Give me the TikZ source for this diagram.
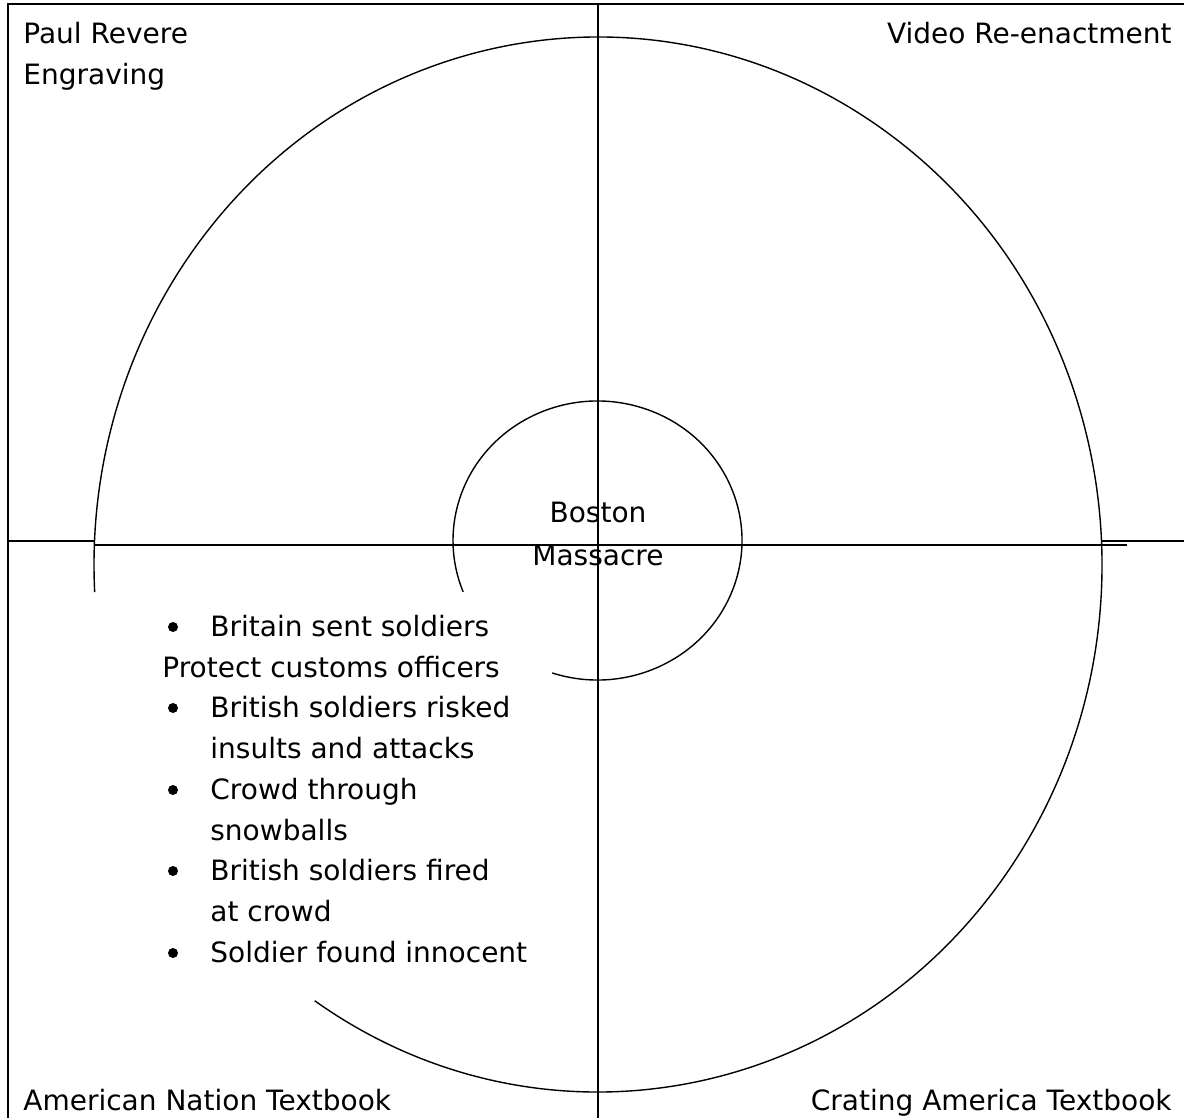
\documentclass[tikz,border=0pt]{standalone}
\usepackage{fontspec}
\setmainfont{DejaVu Sans}

\begin{document}
\begin{tikzpicture}[x=0.5pt, y=-0.5pt]
  \tikzset{
    source/.style={inner sep=0pt, font=\fontsize{14pt}{20.4pt}\selectfont},
    topic/.style={source, anchor=base},
    fact/.style={source, anchor=base west},
    bulletmark/.style={circle, fill=black, inner sep=0pt, minimum size=5pt},
    frame/.style={line width=1pt},
    ring/.style={line width=0.7pt}
  }
  \useasboundingbox (0,0) rectangle (1184,1118);

  \draw[frame] (8,1118) -- (8,4) -- (1184,4);
  \draw[frame] (597.5,4) -- (597.5,1118);
  \draw[frame] (8,541) -- (95,541);
  \draw[frame] (95,544.5) -- (1127,544.5);
  \draw[frame] (1102,541) -- (1184,541);

  \coordinate (outer) at (598,564.5);
  \coordinate (inner) at (597.5,540.5);
  \draw[ring] (outer) ++(-124.2:252pt and 263.75pt)
    arc[start angle=-124.2, end angle=183, x radius=252pt, y radius=263.75pt];
  \draw[ring] (inner) ++(-108.3:72.25pt and 69.75pt)
    arc[start angle=-108.3, end angle=201.6, x radius=72.25pt, y radius=69.75pt];

  \node[source, anchor=base west] (paul) at (23,44) {Paul Revere};
  \node[source, anchor=base west] (engraving) at (23,85) {Engraving};
  \node[source, anchor=base east] (video) at (1172,44) {Video Re-enactment};
  \node[source, anchor=base west] (nation) at (23,1110) {American Nation Textbook};
  \node[source, anchor=base east] (creating) at (1172,1110) {Crating America Textbook};

  \node[topic] (boston) at (598,522) {Boston};
  \node[topic] (massacre) at (598,565) {Massacre};

  \node[bulletmark] (b1) at (173,627) {};
  \node[fact] (sent) at (210,636) {Britain sent soldiers};
  \node[fact] (protect) at (162,677) {Protect customs officers};
  \node[bulletmark] (b2) at (173,708) {};
  \node[fact] (risked) at (210,717) {British soldiers risked};
  \node[fact] (insults) at (210,758) {insults and attacks};
  \node[bulletmark] (b3) at (173,790) {};
  \node[fact] (crowd) at (210,799) {Crowd through};
  \node[fact] (snow) at (210,840) {snowballs};
  \node[bulletmark] (b4) at (173,871) {};
  \node[fact] (fired) at (210,880) {British soldiers fired};
  \node[fact] (atcrowd) at (210,921) {at crowd};
  \node[bulletmark] (b5) at (173,953) {};
  \node[fact] (innocent) at (210,962) {Soldier found innocent};
\end{tikzpicture}
\end{document}
